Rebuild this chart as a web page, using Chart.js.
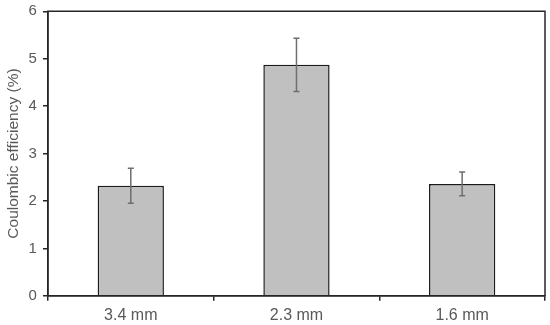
<!DOCTYPE html>
<html>
<head>
<meta charset="utf-8">
<script src="https://cdn.jsdelivr.net/npm/chart.js@4"></script>
<style>
  html, body { margin: 0; padding: 0; background: #fff; }
  #wrap { width: 550px; height: 325px; }
</style>
</head>
<body>
<div id="wrap"><canvas id="chart"></canvas></div>
<script>
// --- Data ---
const categories = ['3.4 mm', '2.3 mm', '1.6 mm'];
const efficiency = [2.32, 4.87, 2.36];
const errors = [0.37, 0.56, 0.25];
const yTicks = [0, 1, 2, 3, 4, 5, 6];

const axisColor = '#262626';
const textColor = '#595959';

// error bars, drawn from the scales
const errorBars = {
    id: 'errorBars',
    afterDatasetsDraw(chart) {
        const ctx = chart.ctx;
        const y = chart.scales.y;
        const meta = chart.getDatasetMeta(0);
        ctx.save();
        ctx.strokeStyle = '#6e6e6e';
        ctx.lineWidth = 1.5;
        meta.data.forEach((bar, i) => {
            const top = y.getPixelForValue(efficiency[i] + errors[i]);
            const bot = y.getPixelForValue(efficiency[i] - errors[i]);
            ctx.beginPath();
            ctx.moveTo(bar.x, top); ctx.lineTo(bar.x, bot);
            ctx.moveTo(bar.x - 3, top); ctx.lineTo(bar.x + 3, top);
            ctx.moveTo(bar.x - 3, bot); ctx.lineTo(bar.x + 3, bot);
            ctx.stroke();
        });
        ctx.restore();
    }
};

// frame around the plot area
const frame = {
    id: 'frame',
    afterDraw(chart) {
        const { ctx, chartArea: a } = chart;
        ctx.save();
        ctx.strokeStyle = axisColor;
        ctx.lineWidth = 1.5;
        ctx.strokeRect(a.left, a.top, a.right - a.left, a.bottom - a.top);
        ctx.restore();
    }
};

new Chart(document.getElementById('chart'), {
    type: 'bar',
    data: {
        labels: categories,
        datasets: [{
            data: efficiency,
            backgroundColor: '#c0c0c0',
            borderColor: '#1a1a1a',
            borderWidth: 1.5,
            categoryPercentage: 1,
            barPercentage: 0.4
        }]
    },
    options: {
        responsive: true,
        maintainAspectRatio: false,
        animation: false,
        layout: { padding: { top: 0, right: 5, left: 4, bottom: -5 } },
        plugins: { legend: { display: false }, tooltip: { enabled: false } },
        scales: {
            x: {
                grid: { offset: true, drawOnChartArea: false, drawTicks: true, tickLength: 5, color: axisColor, lineWidth: 1.5 },
                border: { color: axisColor, width: 1.5 },
                ticks: { color: textColor, font: { family: 'Liberation Sans', size: 16 }, padding: 5 }
            },
            y: {
                min: 0,
                max: 6,
                afterBuildTicks: (axis) => { axis.ticks = yTicks.map(v => ({ value: v })); },
                grid: { drawOnChartArea: false, drawTicks: true, tickLength: 5, color: axisColor, lineWidth: 1.5 },
                border: { color: axisColor, width: 1.5 },
                ticks: { color: textColor, font: { family: 'Liberation Sans', size: 15, lineHeight: 0.7 }, padding: 6 },
                title: {
                    display: true,
                    text: 'Coulombic efficiency (%)',
                    color: textColor,
                    font: { family: 'Liberation Sans', size: 15.5 },
                    padding: { top: 0, bottom: 0 }
                }
            }
        }
    },
    plugins: [errorBars, frame]
});
</script>
</body>
</html>
